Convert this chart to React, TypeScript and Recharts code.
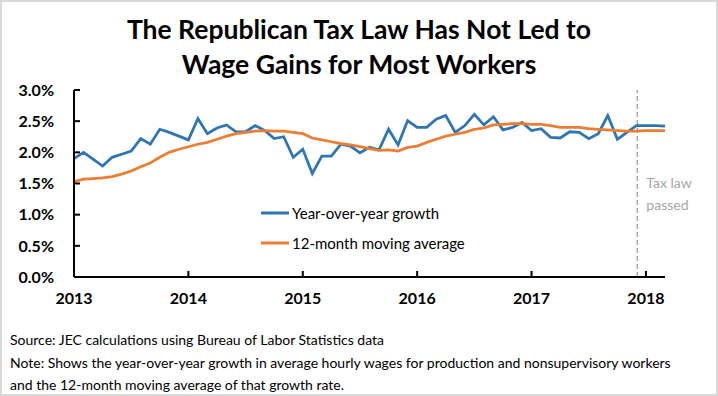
import React from "react";
import { LineChart, Line, XAxis, YAxis, ReferenceLine } from "recharts";

// monthly, Jan 2013 .. Mar 2018 (percent)
const yoyGrowth = [
  1.9, 2.0, 1.89, 1.78, 1.92, 1.97, 2.02, 2.22, 2.13, 2.37, 2.32, 2.26,
  2.2, 2.54, 2.3, 2.39, 2.44, 2.33, 2.33, 2.43, 2.35, 2.22, 2.25, 1.92,
  2.05, 1.66, 1.94, 1.94, 2.13, 2.1, 1.99, 2.08, 2.04, 2.37, 2.12, 2.51,
  2.4, 2.4, 2.53, 2.59, 2.32, 2.43, 2.61, 2.44, 2.57, 2.36, 2.4, 2.48,
  2.35, 2.38, 2.24, 2.23, 2.33, 2.32, 2.22, 2.3, 2.59, 2.21, 2.32, 2.43,
  2.43, 2.43, 2.42,
];

const movingAvg = [
  1.53, 1.57, 1.58, 1.59, 1.61, 1.65, 1.7, 1.77, 1.83, 1.92, 2.0, 2.05,
  2.09, 2.13, 2.16, 2.21, 2.26, 2.3, 2.32, 2.34, 2.35, 2.34, 2.34, 2.32,
  2.3, 2.23, 2.2, 2.17, 2.14, 2.12, 2.09, 2.06, 2.03, 2.04, 2.02, 2.08,
  2.1, 2.16, 2.21, 2.26, 2.29, 2.32, 2.37, 2.39, 2.44, 2.45, 2.46, 2.46,
  2.45, 2.45, 2.43, 2.4, 2.4, 2.4, 2.38, 2.37, 2.36, 2.35, 2.34, 2.34,
  2.35, 2.35, 2.35,
];

const startYear = 2013;
const yearTicks = [0, 12, 24, 36, 48, 60];
const pctTicks = [0, 0.5, 1, 1.5, 2, 2.5, 3];
const taxLawMonth = 59.1; // Dec 2017

const series = [
  { key: "yoy", name: "Year-over-year growth", color: "#2e75b6" },
  { key: "avg", name: "12-month moving average", color: "#ed7d31" },
];

const data = yoyGrowth.map((v, i) => ({
  idx: i,
  yoy: v,
  avg: movingAvg[i],
}));

const FONT = "Lato, 'Open Sans', sans-serif";

function TaxLabel({ viewBox }: any) {
  const x = viewBox.x + 9;
  return (
    <text fill="#a6a6a6" fontSize={14} fontFamily={FONT}>
      <tspan x={x} y={188}>Tax law</tspan>
      <tspan x={x} y={210}>passed</tspan>
    </text>
  );
}

export default function App() {
  const tickStyle = {
    fill: "#000",
    fontSize: 16,
    fontWeight: 700,
    fontFamily: FONT,
  };
  return (
    <div
      style={{
        position: "absolute",
        left: 0,
        top: 0,
        width: 718,
        height: 396,
        background: "#fff",
        fontFamily: FONT,
      }}
    >
      <div
        style={{
          position: "absolute",
          top: 12,
          left: 0,
          width: 718,
          textAlign: "center",
          fontSize: 26.5,
          fontWeight: 700,
          lineHeight: "35px",
        }}
      >
        The Republican Tax Law Has Not Led to
        <br />
        Wage Gains for Most Workers
      </div>

      <div style={{ position: "absolute", left: 0, top: 0 }}>
        <LineChart
          width={718}
          height={310}
          data={data}
          margin={{ top: 90, right: 53, bottom: 0, left: 14 }}
        >
          <XAxis
            dataKey="idx"
            type="number"
            domain={[0, 62]}
            ticks={yearTicks}
            tickFormatter={(v: number) => String(startYear + v / 12)}
            height={33}
            axisLine={{ stroke: "#000", strokeWidth: 2 }}
            tickLine={{ stroke: "#000", strokeWidth: 2 }}
            tickSize={-6}
            tickMargin={22}
            tick={tickStyle}
          />
          <YAxis
            domain={[0, 3]}
            ticks={pctTicks}
            tickFormatter={(v: number) => v.toFixed(1) + "%"}
            width={60}
            axisLine={{ stroke: "#000", strokeWidth: 2 }}
            tickLine={{ stroke: "#000", strokeWidth: 2 }}
            tickSize={-6}
            tickMargin={26}
            tick={tickStyle}
          />
          <ReferenceLine
            x={taxLawMonth}
            stroke="#a6a6a6"
            strokeWidth={1.5}
            strokeDasharray="5 3"
            label={<TaxLabel />}
          />
          {series.map((s) => (
            <Line
              key={s.key}
              type="linear"
              dataKey={s.key}
              name={s.name}
              stroke={s.color}
              strokeWidth={2.75}
              dot={false}
              isAnimationActive={false}
            />
          ))}
        </LineChart>
      </div>

      {/* legend */}
      <div
        style={{
          position: "absolute",
          left: 261,
          top: 198,
          fontSize: 15,
          color: "#000",
        }}
      >
        {series.map((s) => (
          <div
            key={s.key}
            style={{ display: "flex", alignItems: "center", height: 30 }}
          >
            <svg width={30} height={6} style={{ marginRight: 1 }}>
              <line x1={0} y1={3} x2={28} y2={3} stroke={s.color} strokeWidth={3} />
            </svg>
            <span>{s.name}</span>
          </div>
        ))}
      </div>

      <div
        style={{
          position: "absolute",
          left: 10,
          top: 329,
          fontSize: 14,
          lineHeight: "22.5px",
          color: "#000",
        }}
      >
        Source: JEC calculations using Bureau of Labor Statistics data
        <br />
        Note: Shows the year-over-year growth in average hourly wages for
        production and nonsupervisory workers
        <br />
        and the 12-month moving average of that growth rate.
      </div>

      <div
        style={{
          position: "absolute",
          left: 0,
          top: 0,
          width: 718,
          height: 396,
          boxSizing: "border-box",
          border: "2px solid #d9d9d9",
          pointerEvents: "none",
        }}
      />
    </div>
  );
}
